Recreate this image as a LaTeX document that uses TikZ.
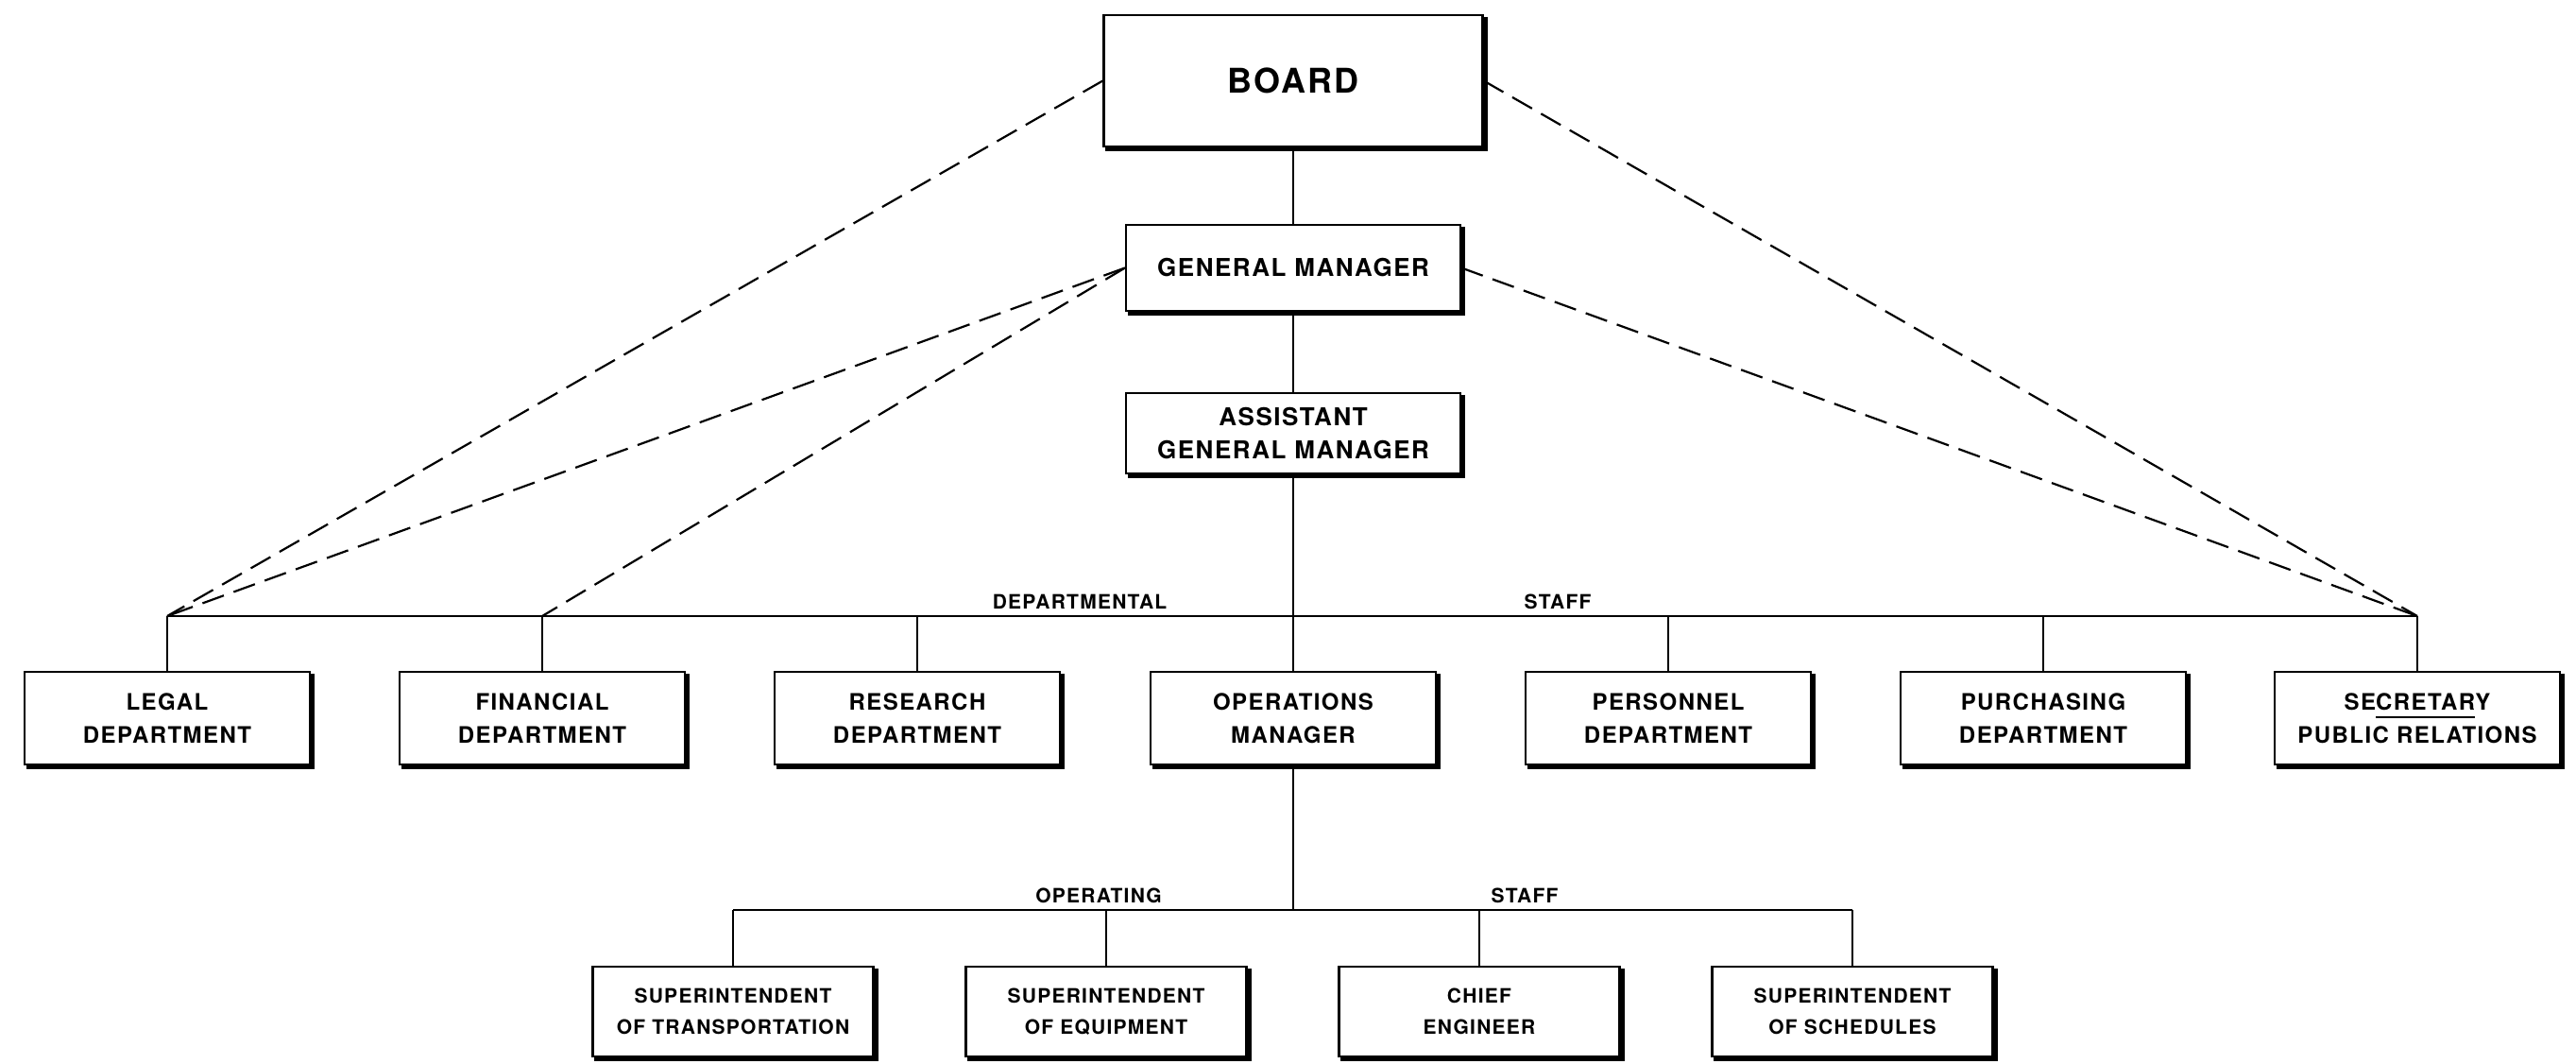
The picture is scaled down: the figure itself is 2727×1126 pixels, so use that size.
\documentclass[tikz,border=0pt]{standalone}
\usepackage{fontspec}
\setmainfont[LetterSpace=6]{TeX Gyre Heros}
\newcommand\barbelow[1]{\setbox0\hbox{#1}\rlap{\rule[-9pt]{\wd0}{2pt}}\box0}
\begin{document}
\begin{tikzpicture}[x=1pt,y=-1pt,
  box/.style={draw, line width=2.2pt, align=center, inner sep=0pt, fill=white},
  topbox/.style={box, minimum width=354pt, font=\bfseries\fontsize{26}{35}\selectfont},
  midbox/.style={box, minimum width=302pt, minimum height=98pt, font=\bfseries\fontsize{24}{35}\selectfont},
  lowbox/.style={box, minimum width=297pt, minimum height=95pt, font=\bfseries\fontsize{21}{33}\selectfont},
  link/.style={line width=2.5pt},
  dashlink/.style={line width=2.2pt, dash pattern=on 24pt off 11pt},
  lab/.style={font=\bfseries\fontsize{21}{26}\selectfont, anchor=south, inner sep=0pt},
  shadowedge/.style={line width=5pt, line join=miter}]
\useasboundingbox (0,0) rectangle (2727,1126);
\coordinate (dline) at (0,652);
\coordinate (oline) at (0,963);

% connectors first (boxes drawn on top)
\node[box, minimum width=401pt, minimum height=139pt, font=\bfseries\fontsize{36}{40}\selectfont] (board) at (1369,85.5) {BOARD};
\node[topbox, minimum height=91pt] (gm) at (1369,283.5) {GENERAL MANAGER};
\node[topbox, minimum height=85pt] (agm) at (1369,458.5) {ASSISTANT\\GENERAL MANAGER};

\node[midbox] (legal) at (177,760) {LEGAL\\DEPARTMENT};
\node[midbox] (financial) at (574,760) {FINANCIAL\\DEPARTMENT};
\node[midbox] (research) at (971,760) {RESEARCH\\DEPARTMENT};
\node[midbox] (ops) at (1369,760) {OPERATIONS\\MANAGER};
\node[midbox] (personnel) at (1766,760) {PERSONNEL\\DEPARTMENT};
\node[midbox] (purchasing) at (2163,760) {PURCHASING\\DEPARTMENT};
\node[midbox] (secretary) at (2559,760) {SE\barbelow{CRETAR}Y\\PUBLIC RELATIONS};

\node[lowbox] (transp) at (776,1070.5) {SUPERINTENDENT\\OF TRANSPORTATION};
\node[lowbox] (equip) at (1171,1070.5) {SUPERINTENDENT\\OF EQUIPMENT};
\node[lowbox] (chief) at (1566,1070.5) {CHIEF\\ENGINEER};
\node[lowbox] (sched) at (1961,1070.5) {SUPERINTENDENT\\OF SCHEDULES};

\foreach \n in {board,gm,agm,legal,financial,research,ops,personnel,purchasing,secretary,transp,equip,chief,sched}{
  \draw[shadowedge] ([xshift=1.5pt,yshift=-3pt]\n.north east) -- ([xshift=1.5pt,yshift=-1.5pt]\n.south east) -- ([xshift=3pt,yshift=-1.5pt]\n.south west);
}

% solid connectors
\draw[link] (board) -- (gm);
\draw[link] (gm) -- (agm);
\draw[link] (agm.south) -- (ops.north);
\draw[link] (legal.north |- dline) -- (secretary.north |- dline);
\foreach \n in {legal,financial,research,personnel,purchasing,secretary}
  \draw[link] (\n.north |- dline) -- (\n.north);
\draw[link] (ops.south) -- (ops.south |- oline);
\draw[link] (transp.north |- oline) -- (sched.north |- oline);
\foreach \n in {transp,equip,chief,sched}
  \draw[link] (\n.north |- oline) -- (\n.north);

% dashed connectors
\draw[dashlink] (board.west) -- (legal.north |- dline);
\draw[dashlink] (gm.west) -- (legal.north |- dline);
\draw[dashlink] (gm.west) -- (financial.north |- dline);
\draw[dashlink] (board.east) -- (secretary.north |- dline);
\draw[dashlink] (gm.east) -- (secretary.north |- dline);

% labels
\node[lab] (ldept) at (1143,645) {DEPARTMENTAL};
\node[lab] (lstaff1) at (1649,645) {STAFF};
\node[lab] (lop) at (1163,956) {OPERATING};
\node[lab] (lstaff2) at (1614,956) {STAFF};
\end{tikzpicture}
\end{document}
